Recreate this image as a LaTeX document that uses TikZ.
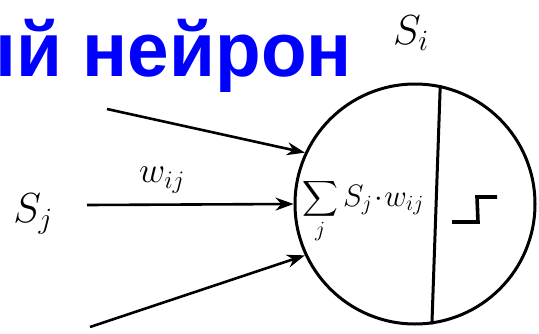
\RequirePackage{fix-cm}
\documentclass[tikz,border=0pt]{standalone}
\usepackage{exscale}
\usepackage{fontspec}
\newfontfamily\titlefont{Liberation Sans}
\usetikzlibrary{arrows.meta, positioning, calc}
\tikzset{
    neuron/.style={draw, circle, line width=3pt, minimum size=240pt, inner sep=0pt},
    arrow/.style={-{Stealth[length=18pt, width=13pt]}, line width=2.6pt},
    hand/.style={inner sep=0pt, font=\fontsize{42}{44}\selectfont},
    headline/.style={inner sep=0pt, text=blue, font=\titlefont\bfseries\fontsize{77}{80}\selectfont},
    stroke/.style={line width=3pt}
}
\begin{document}
\begin{tikzpicture}[x=1pt, y=-1pt]
    \useasboundingbox (0,0) rectangle (539,333);
    \node [headline, anchor=base east] (title) at (352,76) {\scalebox{0.97}[1]{ый нейрон}};
    \node [neuron] (n) at (415,204) {};
    \node [hand] (si) at (411,33) {$S_i$};
    \node [hand] (sj) at (33,214) {$S_j$};
    \coordinate (in1) at (107,109);
    \coordinate (in2) at (87,205);
    \coordinate (in3) at (90,327);
    \draw [arrow] (in1) -- (n.155);
    \draw [arrow] (in2) -- (n.180);
    \draw [arrow] (in3) -- (n.205);
    \node [hand, font=\fontsize{36}{38}\selectfont] (wij) at (162,180) {$w_{ij}$};
    \draw [stroke] (n.78) -- (n.-82);
    \node [inner sep=0pt, font=\fontsize{31}{33}\selectfont] (sum) at (363,211) {$\displaystyle\sum_j S_j\!\cdot\! w_{ij}$};
    \draw [stroke, line width=3.6pt] ([shift={(37,18)}]n.center) -- ++(26,0) -- ++(-1,-25) -- ++(20,0);
\end{tikzpicture}
\end{document}
